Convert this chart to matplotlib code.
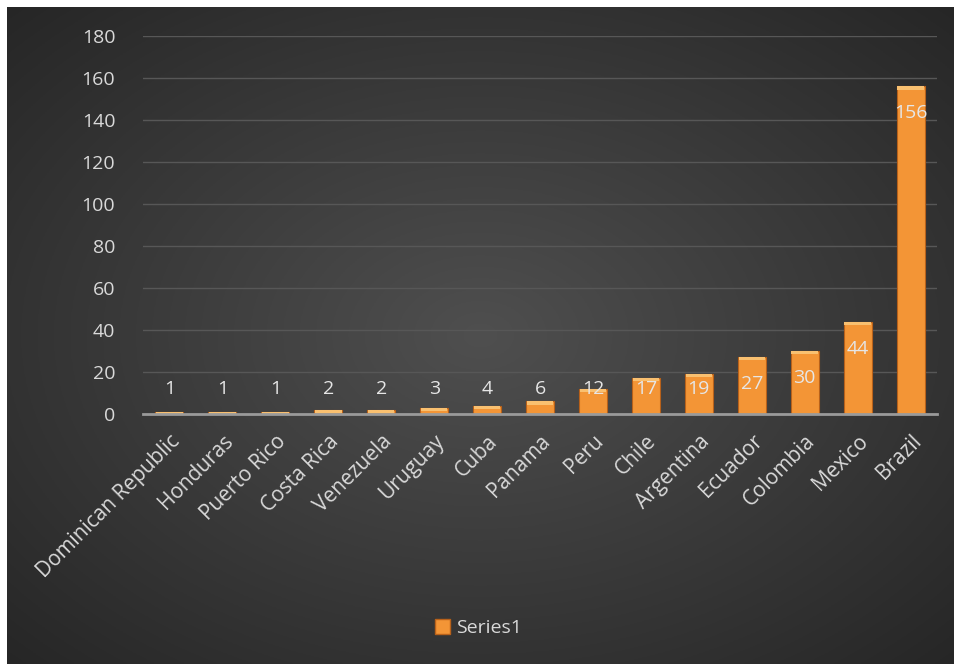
import numpy as np
import matplotlib.pyplot as plt
from matplotlib.patches import Patch

countries = ['Dominican Republic', 'Honduras', 'Puerto Rico', 'Costa Rica', 'Venezuela',
             'Uruguay', 'Cuba', 'Panama', 'Peru', 'Chile', 'Argentina', 'Ecuador',
             'Colombia', 'Mexico', 'Brazil']
values = [1, 1, 1, 2, 2, 3, 4, 6, 12, 17, 19, 27, 30, 44, 156]
series_name = 'Series1'
y_ticks = [0, 20, 40, 60, 80, 100, 120, 140, 160, 180]

plt.rcParams['font.family'] = ['Open Sans', 'DejaVu Sans']
txt = '#d9d9d9'

fig = plt.figure(figsize=(9.57, 6.64), dpi=100)
fig.patch.set_facecolor('white')

# radial gradient background
bg = fig.add_axes([7 / 957, 0, 947 / 957, 657 / 664])
bg.set_axis_off()
gx, gy = np.meshgrid(np.linspace(-1, 1, 400), np.linspace(-1, 1, 300))
r = np.sqrt(gx ** 2 + gy ** 2) / np.sqrt(2)
shade = 0.31 - 0.16 * r
bg.imshow(np.dstack([shade] * 3), aspect='auto', extent=[0, 1, 0, 1])

ax = fig.add_axes([143 / 957, 250 / 664, 794 / 957, 378 / 664])
ax.patch.set_alpha(0)
x = np.arange(len(countries))
ax.bar(x, values, width=0.53, color='#f39536', edgecolor='#b8611a', linewidth=0.8, zorder=3)
caps = [min(v, 1.5) for v in values]
ax.bar(x, caps, bottom=[v - c for v, c in zip(values, caps)], width=0.5,
       color='#f9c070', linewidth=0, zorder=4)

for xi, v in zip(x, values):
    ax.text(xi, max(v - 12.9, 12), str(v), ha='center', va='center',
            color='#e6e6e6', fontsize=14, zorder=5)

ax.set_xlim(-0.5, len(countries) - 0.5)
ax.set_ylim(0, 180)
ax.set_yticks(y_ticks)
ax.yaxis.grid(True, color='#575757', linewidth=1, zorder=0)
ax.set_axisbelow(True)
for s in ['top', 'right', 'left']:
    ax.spines[s].set_visible(False)
ax.spines['bottom'].set_color('#9a9a9a')
ax.spines['bottom'].set_linewidth(2)
ax.spines['bottom'].set_zorder(6)
ax.tick_params(axis='both', length=0, colors=txt, labelsize=14)
ax.tick_params(axis='y', pad=20)
ax.tick_params(axis='x', pad=12)
ax.set_xticks(x)
ax.set_xticklabels(countries, rotation=45, ha='right', rotation_mode='anchor', fontsize=15)

handle = Patch(facecolor='#f39536', edgecolor='#b8611a')
fig.legend([handle], [series_name], loc='center', bbox_to_anchor=(0.5, 1 - 628 / 664),
           frameon=False, labelcolor=txt, fontsize=14, handlelength=0.8, handleheight=0.8,
           handletextpad=0.3)

fig.savefig('out.png', dpi=100, facecolor=fig.get_facecolor())
